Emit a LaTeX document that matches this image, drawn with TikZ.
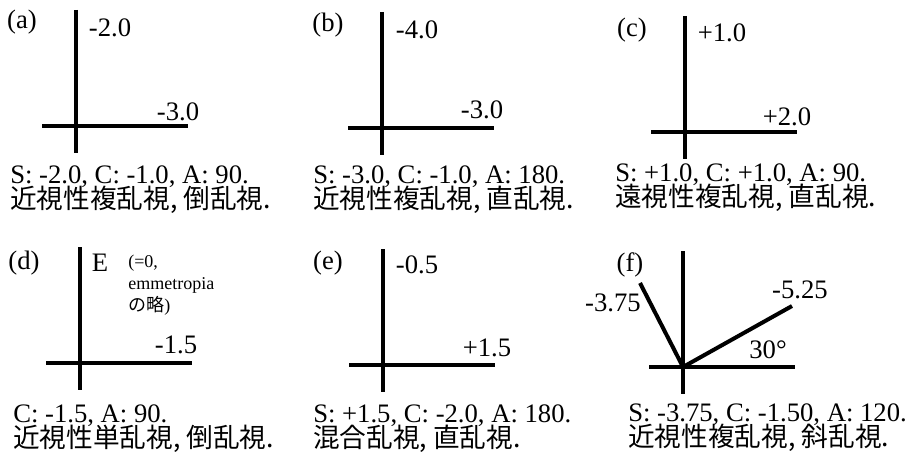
\documentclass[tikz,border=0pt]{standalone}
\usepackage{fontspec}
\setmainfont{Liberation Serif}
\newfontfamily\jpfont{Noto Sans CJK JP}
\usetikzlibrary{positioning}
\newcommand\tightlines{\lineskiplimit=-100pt\relax}

\begin{document}
\begin{tikzpicture}[x=0.75pt, y=-0.75pt,
        axis/.style={line width=3pt},
        lbl/.style={inner sep=0pt, font=\fontsize{20}{22}\selectfont},
        capline/.style={anchor=base west, inner sep=0pt, align=left,
            font=\fontsize{20}{18.75}\selectfont\tightlines},
        note/.style={anchor=north west, inner sep=0pt, align=left,
            font=\fontsize{13.5}{16.5}\selectfont\tightlines}
    ]
        \useasboundingbox (0,0) rectangle (919,453);

        % (a)
        \coordinate (oa) at (76,126);
        \draw[axis] (oa) ++(0,-116) -- ++(0,143);
        \draw[axis] (oa) ++(-34,0) -- ++(146,0);
        \node[lbl] (ta) at (22,22) {(a)};
        \node[lbl] (va1) at (110,28) {-2.0};
        \node[lbl] (va2) at (178,112) {-3.0};
        \node[capline] (ca) at (10,208) {S: -2.0, C: -1.0, A: 90.\\{\jpfont 近視性複乱視, 倒乱視.}};

        % (b)
        \coordinate (ob) at (382,128);
        \draw[axis] (ob) ++(0,-116) -- ++(0,143);
        \draw[axis] (ob) ++(-34,0) -- ++(146,0);
        \node[lbl] (tb) at (328,25) {(b)};
        \node[lbl] (vb1) at (417,30) {-4.0};
        \node[lbl] (vb2) at (482,110) {-3.0};
        \node[capline] (cb) at (313,208) {S: -3.0, C: -1.0, A: 180.\\{\jpfont 近視性複乱視, 直乱視.}};

        % (c)
        \coordinate (oc) at (685,132);
        \draw[axis] (oc) ++(0,-116) -- ++(0,143);
        \draw[axis] (oc) ++(-34,0) -- ++(146,0);
        \node[lbl] (tc) at (632,30) {(c)};
        \node[lbl] (vc1) at (722,33) {+1.0};
        \node[lbl] (vc2) at (787,117) {+2.0};
        \node[capline] (cc) at (615,206) {S: +1.0, C: +1.0, A: 90.\\{\jpfont 遠視性複乱視, 直乱視.}};

        % (d)
        \coordinate (od) at (80,363);
        \draw[axis] (od) ++(0,-116) -- ++(0,143);
        \draw[axis] (od) ++(-34,0) -- ++(146,0);
        \node[lbl] (td) at (24,263) {(d)};
        \node[lbl] (vd1) at (100,263) {E};
        \node[note] (nd) at (128,255) {(=0,\\emmetropia\\{\jpfont の略})};
        \node[lbl] (vd2) at (176,345) {-1.5};
        \node[capline] (cd) at (13,447) {C: -1.5, A: 90.\\{\jpfont 近視性単乱視, 倒乱視.}};

        % (e)
        \coordinate (oe) at (383,365);
        \draw[axis] (oe) ++(0,-116) -- ++(0,143);
        \draw[axis] (oe) ++(-34,0) -- ++(146,0);
        \node[lbl] (te) at (328,263) {(e)};
        \node[lbl] (ve1) at (417,265) {-0.5};
        \node[lbl] (ve2) at (487,348) {+1.5};
        \node[capline] (ce) at (313,447) {S: +1.5, C: -2.0, A: 180.\\{\jpfont 混合乱視, 直乱視.}};

        % (f)
        \coordinate (of) at (683,367);
        \draw[axis] (of) ++(0,-116) -- ++(0,143);
        \draw[axis] (of) ++(-34,0) -- ++(146,0);
        \coordinate (fl) at (640,283);
        \coordinate (fr) at (792,306);
        \draw[axis] (of) -- (fl);
        \draw[axis] (of) -- (fr);
        \node[lbl] (tf) at (630,265) {(f)};
        \node[lbl] (vf1) at (613,303) {-3.75};
        \node[lbl] (vf2) at (800,290) {-5.25};
        \node[lbl] (af) at (768,350) {30°};
        \node[capline] (cf) at (628,446) {S: -3.75, C: -1.50, A: 120.\\{\jpfont 近視性複乱視, 斜乱視.}};
    \end{tikzpicture}
\end{document}
